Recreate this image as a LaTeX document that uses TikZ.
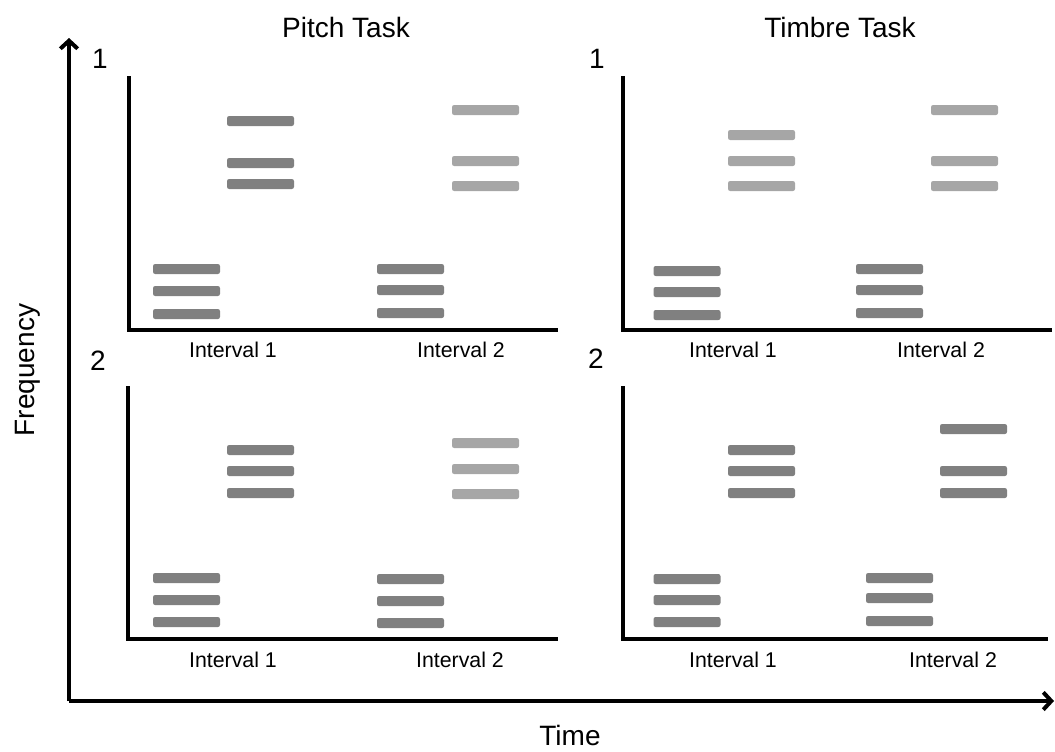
\documentclass[tikz,border=0pt]{standalone}
\usepackage{fontspec}
\setmainfont{Liberation Sans}
\usetikzlibrary{arrows.meta}
\definecolor{bardark}{HTML}{808080}
\definecolor{barlight}{HTML}{A6A6A6}
\begin{document}
\begin{tikzpicture}[x=0.75pt,y=-0.75pt,
  barbase/.style={rectangle,rounded corners=1.6pt,minimum width=50.25pt,minimum height=7.5pt,inner sep=0pt,draw=none},
  dbar/.style={barbase,fill=bardark},
  lbar/.style={barbase,fill=barlight},
  panelaxis/.style={line width=2.3pt,line join=miter},
  mainaxis/.style={line width=3pt,-{Straight Barb[length=6pt,width=13pt,line width=3pt]}},
  biglab/.style={font=\fontsize{21}{24}\selectfont,inner sep=0pt,anchor=base},
  intlab/.style={font=\fontsize{16}{19}\selectfont,inner sep=0pt,anchor=base}]
\useasboundingbox (0,0) rectangle (1055,751);
% main axes
\coordinate (origin) at (69,701);
\coordinate (ytip) at (69,38);
\coordinate (xtip) at (1054,701);
\draw[mainaxis] (origin) -- (ytip);
\draw[mainaxis] (origin) -- (xtip);
\node[biglab] (freq) at (34,370) [rotate=90] {Frequency};
\node[biglab] (time) at (570,745) {Time};
\node[biglab] (pitch) at (346,37) {Pitch Task};
\node[biglab] (timbre) at (840,37) {Timbre Task};
\node[biglab] (n1a) at (100,68) {1};
\node[biglab] (n2a) at (98,370) {2};
\node[biglab] (n1b) at (597,68) {1};
\node[biglab] (n2b) at (596,368) {2};
% panel axes
\coordinate (p1t) at (129,76); \coordinate (p1c) at (129,330); \coordinate (p1r) at (558,330);
\coordinate (p2t) at (623,76); \coordinate (p2c) at (623,330); \coordinate (p2r) at (1052,330);
\coordinate (p3t) at (128,386); \coordinate (p3c) at (128,639); \coordinate (p3r) at (558,639);
\coordinate (p4t) at (623,386); \coordinate (p4c) at (623,639); \coordinate (p4r) at (1048,639);
\draw[panelaxis] (p1t) -- (p1c) -- (p1r);
\draw[panelaxis] (p2t) -- (p2c) -- (p2r);
\draw[panelaxis] (p3t) -- (p3c) -- (p3r);
\draw[panelaxis] (p4t) -- (p4c) -- (p4r);
% interval labels
\node[intlab] (i11) at (233,357) {Interval 1};
\node[intlab] (i12) at (461,357) {Interval 2};
\node[intlab] (i21) at (733,357) {Interval 1};
\node[intlab] (i22) at (941,357) {Interval 2};
\node[intlab] (i31) at (233,667) {Interval 1};
\node[intlab] (i32) at (460,667) {Interval 2};
\node[intlab] (i41) at (733,667) {Interval 1};
\node[intlab] (i42) at (953,667) {Interval 2};
% panel 1 bars
\foreach \y [count=\k] in {269,291,314} \node[dbar] (a1\k) at (186.5,\y) {};
\foreach \y [count=\k] in {121,163,184} \node[dbar] (a2\k) at (260.5,\y) {};
\foreach \y [count=\k] in {269,290,313} \node[dbar] (a3\k) at (410.5,\y) {};
\foreach \y [count=\k] in {110,161,186} \node[lbar] (a4\k) at (485.5,\y) {};
% panel 2 bars
\foreach \y [count=\k] in {271,292,315} \node[dbar] (b1\k) at (687,\y) {};
\foreach \y [count=\k] in {135,161,186} \node[lbar] (b2\k) at (761.5,\y) {};
\foreach \y [count=\k] in {269,290,313} \node[dbar] (b3\k) at (889.5,\y) {};
\foreach \y [count=\k] in {110,161,186} \node[lbar] (b4\k) at (964.5,\y) {};
% panel 3 bars
\foreach \y [count=\k] in {578,600,622} \node[dbar] (c1\k) at (186.5,\y) {};
\foreach \y [count=\k] in {450,471,493} \node[dbar] (c2\k) at (260.5,\y) {};
\foreach \y [count=\k] in {579,601,623} \node[dbar] (c3\k) at (410.5,\y) {};
\foreach \y [count=\k] in {443,469,494} \node[lbar] (c4\k) at (485.5,\y) {};
% panel 4 bars
\foreach \y [count=\k] in {579,600,622} \node[dbar] (d1\k) at (687,\y) {};
\foreach \y [count=\k] in {450,471,493} \node[dbar] (d2\k) at (761.5,\y) {};
\foreach \y [count=\k] in {578,598,621} \node[dbar] (d3\k) at (899.5,\y) {};
\foreach \y [count=\k] in {429,471,493} \node[dbar] (d4\k) at (973.5,\y) {};
\end{tikzpicture}
\end{document}
